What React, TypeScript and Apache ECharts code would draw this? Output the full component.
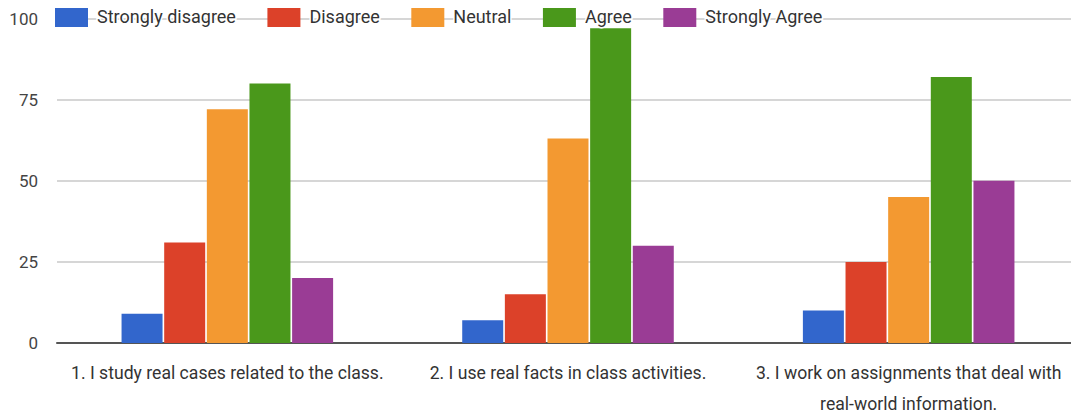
import React, { useEffect, useRef } from "react";
import * as echarts from "echarts";

const categories = [
  "1. I study real cases related to the class.",
  "2. I use real facts in class activities.",
  "3. I work on assignments that deal with\nreal-world information.",
];
const seriesNames = ["Strongly disagree", "Disagree", "Neutral", "Agree", "Strongly Agree"];
const stronglyDisagree = [9, 7, 10];
const disagree = [31, 15, 25];
const neutral = [72, 63, 45];
const agree = [80, 97, 82];
const stronglyAgree = [20, 30, 50];
const yTicks = [0, 25, 50, 75, 100];
const colors = ["#3266cc", "#dc4129", "#f39931", "#4a981b", "#9a3c95"];

const FONT = "Roboto, 'Liberation Sans', sans-serif";

export default function App() {
  const ref = useRef<HTMLDivElement>(null);
  useEffect(() => {
    if (!ref.current) return;
    const chart = echarts.init(ref.current, undefined, { renderer: "svg" });
    const values = [stronglyDisagree, disagree, neutral, agree, stronglyAgree];
    chart.setOption({
      animation: false,
      textStyle: { fontFamily: FONT },
      legend: {
        left: 50,
        top: 1,
        itemWidth: 33,
        itemHeight: 21,
        itemGap: 30,
        icon: "rect",
        data: seriesNames,
        textStyle: {
          fontFamily: FONT,
          fontSize: 18,
          color: "#333",
          textBorderColor: "#fff",
          textBorderWidth: 3,
          padding: [0, 0, 0, 4],
        },
      },
      grid: { left: 57, right: 0, top: 18.5, bottom: 70.7, containLabel: false },
      xAxis: {
        type: "category",
        data: categories,
        axisTick: { show: false },
        axisLine: { lineStyle: { color: "#555", width: 2 } },
        axisLabel: {
          fontFamily: FONT,
          fontSize: 17.6,
          color: "#333",
          lineHeight: 31,
          margin: 14,
          interval: 0,
        },
      },
      yAxis: {
        type: "value",
        min: 0,
        max: 100,
        interval: 25,
        axisLine: { show: false },
        axisTick: { show: false },
        splitLine: { lineStyle: { color: "#d6d6d6", width: 2 } },
        axisLabel: {
          fontFamily: FONT,
          fontSize: 17,
          color: "#444",
          margin: 19,
          formatter: (v: number) => (yTicks.includes(v) ? String(v) : ""),
        },
      },
      series: seriesNames.map((name, i) => ({
        name,
        type: "bar",
        data: values[i],
        barWidth: 41,
        barGap: "4%",
        itemStyle: { color: colors[i] },
      })),
    });
    return () => chart.dispose();
  }, []);
  return <div ref={ref} style={{ width: 1079, height: 419, margin: -8 }} />;
}
